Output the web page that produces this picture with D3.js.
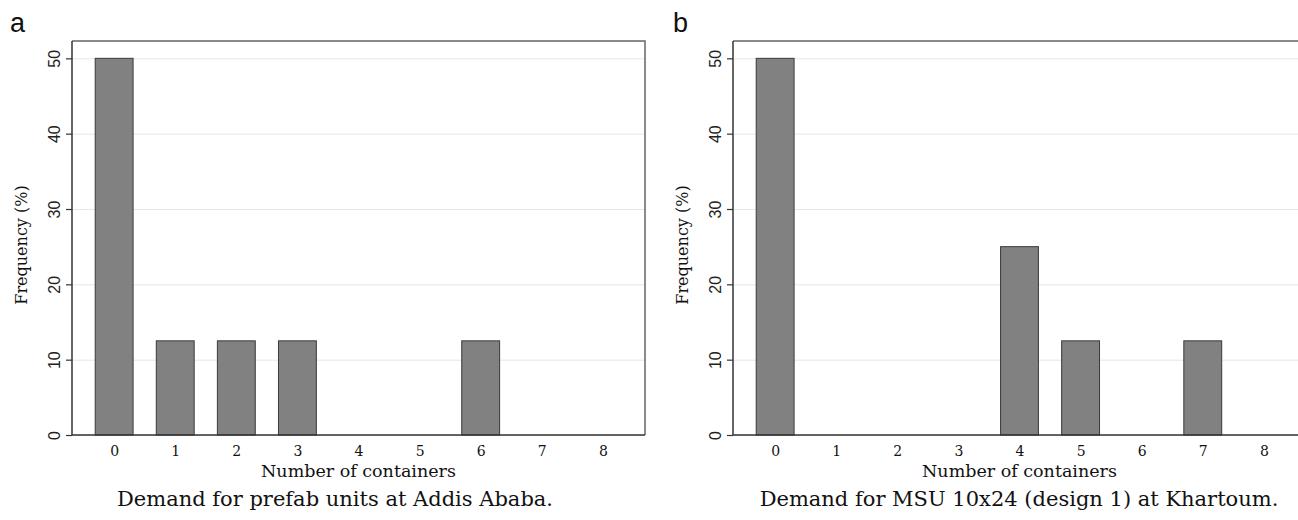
<!DOCTYPE html>
<html>
<head>
<meta charset="utf-8">
<script src="https://cdn.jsdelivr.net/npm/d3@7"></script>
<style>
  html, body { margin: 0; background: #fff; overflow: hidden; width: 1298px; }
  svg { display: block; overflow: hidden; }
</style>
</head>
<body>
<script>
// data
const containers = [0, 1, 2, 3, 4, 5, 6, 7, 8];
const freqAddis = [50, 12.5, 12.5, 12.5, 0, 0, 12.5, 0, 0];
const freqKhartoum = [50, 0, 0, 0, 25, 12.5, 0, 12.5, 0];
const yTicks = [0, 10, 20, 30, 40, 50];
const panelLetters = ["a", "b"];
const captions = [
  "Demand for prefab units at Addis Ababa.",
  "Demand for MSU 10x24 (design 1) at Khartoum."
];

const W = 1298, H = 520;
const serif = "'DejaVu Serif', serif";
const sans = "'Liberation Sans', Arial, sans-serif";

const svg = d3.select("body").append("svg")
  .attr("width", W).attr("height", H);

// the right panel runs past the edge of the picture
svg.append("clipPath").attr("id", "page")
  .append("rect").attr("width", W).attr("height", H);

const root = svg.append("g").attr("clip-path", "url(#page)");

const panels = [
  { values: freqAddis, left: 72, capX: 335 },
  { values: freqKhartoum, left: 733, capX: 1019 }
];

const plotW = 573, plotTop = 41, plotBottom = 435;

panels.forEach((p, i) => {
  const g = root.append("g");
  const x = d3.scaleLinear().domain([-0.69, 8.69]).range([p.left, p.left + plotW]);
  const y = d3.scaleLinear().domain([0, 52.3]).range([plotBottom, plotTop]);
  const right = p.left + plotW;

  // grid
  g.append("g")
    .attr("transform", `translate(${p.left},0)`)
    .call(d3.axisLeft(y).tickValues(yTicks).tickSize(-plotW).tickFormat(""))
    .call(g => g.select(".domain").remove())
    .call(g => g.selectAll("line").attr("stroke", "#e6e6e6").attr("stroke-width", 1));

  // frame: top and right sides
  g.append("path")
    .attr("d", `M${p.left},${plotTop}H${right}V${plotBottom}`)
    .attr("fill", "none").attr("stroke", "#666").attr("stroke-width", 1.5);

  // bars
  const bw = x(0.31) - x(0);
  g.selectAll("rect.bar")
    .data(containers.map((c, k) => ({ c, v: p.values[k] })).filter(d => d.v > 0))
    .join("rect")
    .attr("class", "bar")
    .attr("x", d => x(d.c) - bw)
    .attr("width", 2 * bw)
    .attr("y", d => y(d.v))
    .attr("height", d => y(0) - y(d.v))
    .attr("fill", "#818181")
    .attr("stroke", "#3a3a3a")
    .attr("stroke-width", 1);

  // y axis
  const ya = g.append("g")
    .attr("transform", `translate(${p.left},0)`)
    .call(d3.axisLeft(y).tickValues(yTicks).tickSize(6).tickPadding(4));
  ya.select(".domain").attr("stroke", "#333").attr("stroke-width", 1.5)
    .attr("d", `M0,${plotBottom}V${plotTop}`);
  ya.selectAll(".tick line").attr("stroke", "#333").attr("stroke-width", 1.2);
  ya.selectAll(".tick text")
    .attr("font-family", sans).attr("font-size", 16).attr("fill", "#222")
    .attr("text-anchor", "middle")
    .attr("transform", "translate(-18,0) rotate(-90)")
    .attr("x", 0).attr("dy", "0.35em");

  // x axis
  const xa = g.append("g")
    .attr("transform", `translate(0,${plotBottom})`)
    .call(d3.axisBottom(x).tickValues(containers).tickSize(0).tickPadding(11));
  xa.select(".domain").attr("stroke", "#333").attr("stroke-width", 1.5)
    .attr("d", `M${p.left},0H${right}`);
  xa.selectAll(".tick text")
    .attr("font-family", serif).attr("font-size", 14).attr("fill", "#111");

  // axis titles
  g.append("text")
    .attr("x", x(4)).attr("y", 477)
    .attr("text-anchor", "middle")
    .attr("font-family", serif).attr("font-size", 17.5).attr("fill", "#111")
    .text("Number of containers");

  g.append("text")
    .attr("transform", `translate(${p.left - 45},${(plotTop + plotBottom) / 2 + 7}) rotate(-90)`)
    .attr("text-anchor", "middle")
    .attr("font-family", serif).attr("font-size", 16).attr("fill", "#111")
    .text("Frequency (%)");

  g.append("text")
    .attr("x", p.capX).attr("y", 506)
    .attr("text-anchor", "middle")
    .attr("font-family", serif).attr("font-size", 21).attr("fill", "#111")
    .text(captions[i]);

  g.append("text")
    .attr("x", p.left - 62 + (i ? 2 : 0)).attr("y", 32)
    .attr("font-family", sans).attr("font-size", 27).attr("fill", "#111")
    .text(panelLetters[i]);
});
</script>
</body>
</html>
